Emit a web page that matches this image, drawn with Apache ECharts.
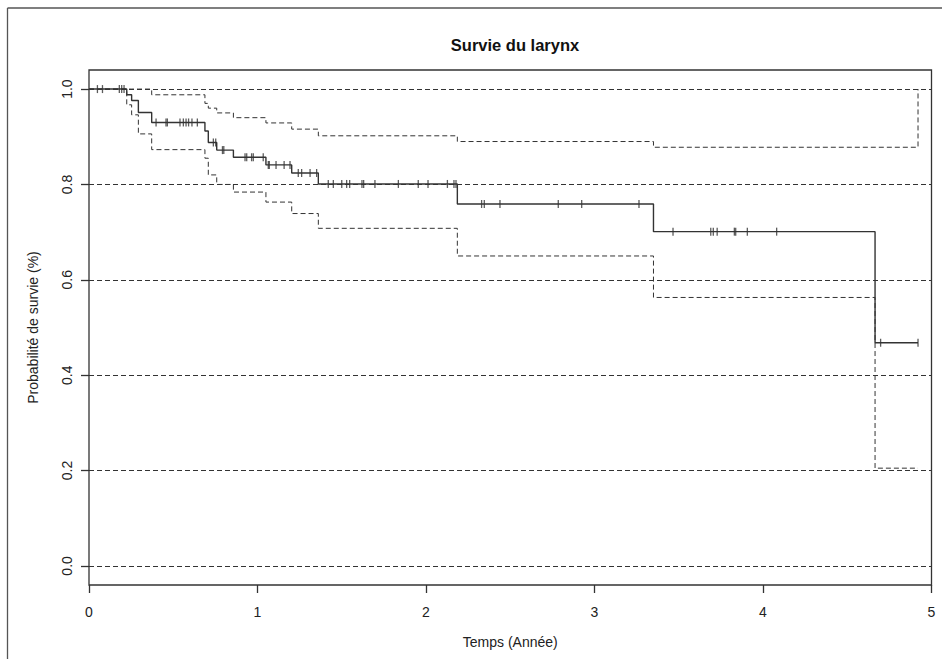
<!DOCTYPE html>
<html>
<head>
<meta charset="utf-8">
<script src="https://cdn.jsdelivr.net/npm/echarts@6/dist/echarts.min.js"></script>
<style>
html,body{margin:0;padding:0;background:#fff;}
#chart{width:942px;height:659px;}
</style>
</head>
<body>
<div id="chart"></div>
<script>
// Kaplan-Meier step function (time in years, survival probability)
const eventTimes = [0, 0.224, 0.253, 0.293, 0.372, 0.688, 0.708, 0.758, 0.857, 1.050, 1.203, 1.361, 2.186, 3.350, 4.665, 4.920];
const survival   = [1, 0.988, 0.976, 0.951, 0.930, 0.912, 0.888, 0.872, 0.857, 0.841, 0.824, 0.801, 0.759, 0.701, 0.468, 0.468];
const upperCI    = [1, 1, 1, 1, 0.988, 0.970, 0.960, 0.950, 0.940, 0.929, 0.916, 0.902, 0.890, 0.878, 0.878, 1.0];
const lowerCI    = [1, 0.967, 0.946, 0.906, 0.873, 0.855, 0.820, 0.800, 0.784, 0.763, 0.739, 0.708, 0.650, 0.563, 0.205, 0.205];
// censored observations (time in years)
const censorTimes = [0.050, 0.080, 0.180, 0.194, 0.208,
  0.398, 0.457, 0.465, 0.540, 0.560, 0.576, 0.591, 0.611, 0.643,
  0.738, 0.752, 0.792, 0.800,
  0.926, 0.936, 0.965, 0.975, 1.034,
  1.064, 1.070, 1.110, 1.158, 1.193,
  1.242, 1.262, 1.312, 1.351,
  1.420, 1.450, 1.500, 1.529, 1.547, 1.620, 1.630, 1.697, 1.836, 1.954, 2.012, 2.127, 2.166, 2.178,
  2.330, 2.346, 2.439, 2.785, 2.924, 3.264,
  3.466, 3.690, 3.705, 3.728, 3.830, 3.838, 3.907, 4.081,
  4.698, 4.920];
const xTicks = [0, 1, 2, 3, 4, 5];
const yTicks = [0, 0.2, 0.4, 0.6, 0.8, 1.0];
const yRange = [-0.04, 1.04];
const titleText = 'Survie du larynx';
const xName = 'Temps (Année)';
const yName = 'Probabilité de survie (%)';

function pairs(xs, ys) { return xs.map((x, i) => [x, ys[i]]); }
function survAt(t) {
  let v = survival[0];
  for (let i = 0; i < eventTimes.length; i++) { if (eventTimes[i] <= t) v = survival[i]; }
  return v;
}

const FONT = '"Liberation Sans", Arial, Helvetica, sans-serif';
const INK = '#333';

const chart = echarts.init(document.getElementById('chart'), null, {renderer: 'svg'});
const dashLine = {color: INK, width: 1, type: [5, 3]};
chart.setOption({
  animation: false,
  backgroundColor: '#fff',
  title: {
    text: titleText,
    left: 510, top: 31, textAlign: 'center',
    textStyle: {fontFamily: FONT, fontSize: 16.5, fontWeight: 'bold', color: '#111'}
  },
  grid: {left: 89, right: 10.5, top: 70, bottom: 74, containLabel: false},
  xAxis: {
    type: 'value', min: xTicks[0], max: xTicks[xTicks.length - 1], interval: 1,
    name: xName, nameLocation: 'middle', nameGap: 50,
    nameTextStyle: {fontFamily: FONT, fontSize: 14, color: '#222'},
    axisLine: {show: false, onZero: false},
    axisTick: {show: true, length: 8, inside: false, lineStyle: {color: INK, width: 1.3}},
    axisLabel: {fontFamily: FONT, fontSize: 14, color: '#222', margin: 20},
    splitLine: {show: false}
  },
  yAxis: {
    type: 'value', min: yRange[0], max: yRange[1],
    name: yName, nameLocation: 'middle', nameGap: 49,
    nameTextStyle: {fontFamily: FONT, fontSize: 14, color: '#222'},
    axisLine: {show: false, onZero: false},
    axisTick: {show: true, length: 8, inside: false, customValues: yTicks, lineStyle: {color: INK, width: 1.3}},
    axisLabel: {fontFamily: FONT, fontSize: 14, color: '#222', margin: 15, rotate: 90,
      customValues: yTicks, formatter: v => v.toFixed(1)},
    splitLine: {show: false}
  },
  graphic: [
    {type: 'rect', shape: {x: 89, y: 70, width: 842.5, height: 515}, style: {fill: 'none', stroke: INK, lineWidth: 1.3}, z: 100},
    {type: 'line', shape: {x1: 7.5, y1: 8, x2: 942, y2: 8}, style: {stroke: '#555', lineWidth: 1.3}},
    {type: 'line', shape: {x1: 7.5, y1: 8, x2: 7.5, y2: 659}, style: {stroke: '#555', lineWidth: 1.3}}
  ],
  series: [
    {type: 'line', name: 'IC sup', step: 'end', showSymbol: false, symbol: 'none',
     data: pairs(eventTimes, upperCI), lineStyle: dashLine, z: 3,
     markLine: {silent: true, symbol: 'none', label: {show: false}, lineStyle: dashLine,
       data: yTicks.map(v => ({yAxis: v}))}},
    {type: 'line', name: 'IC inf', step: 'end', showSymbol: false, symbol: 'none',
     data: pairs(eventTimes, lowerCI), lineStyle: dashLine, z: 3},
    {type: 'line', name: 'Survie', step: 'end', showSymbol: false, symbol: 'none',
     data: pairs(eventTimes, survival), lineStyle: {color: INK, width: 1.4}, z: 4},
    {type: 'scatter', name: 'Censure', symbol: 'rect', symbolSize: [1.3, 8],
     itemStyle: {color: INK}, data: censorTimes.map(t => [t, survAt(t)]), z: 5}
  ]
});
</script>
</body>
</html>
